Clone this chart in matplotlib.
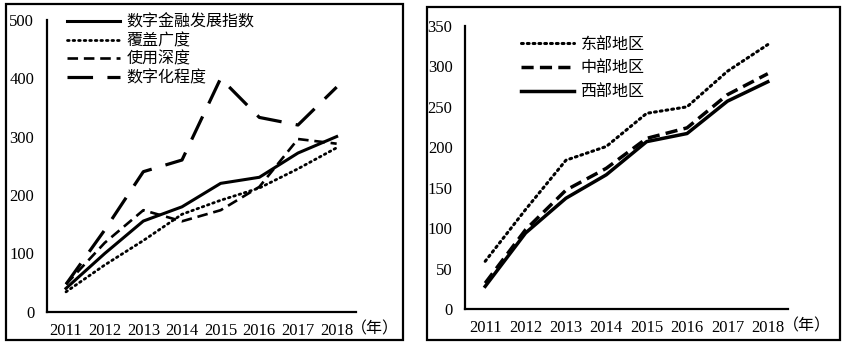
#!/usr/bin/env python3

import matplotlib
matplotlib.use("Agg")
import matplotlib.pyplot as plt
from matplotlib.patches import Rectangle

plt.rcParams['font.family'] = ['Liberation Serif', 'Noto Sans CJK SC', 'DejaVu Sans']

years = ['2011', '2012', '2013', '2014', '2015', '2016', '2017', '2018']

# national index and its three sub-dimensions
index_total = [40, 99.7, 155.4, 179.8, 220.0, 230.4, 272.0, 300.2]
coverage = [34, 80, 122, 167, 191, 212, 245, 281]
usage_depth = [47, 118, 174, 155, 174, 214, 296, 288]
digitization = [47, 140, 240, 260, 400, 333, 320, 385]

# regional index
east = [59, 123, 184, 201, 242, 250, 294, 327]
central = [32, 98, 147, 174, 211, 224, 265, 291]
west = [28, 94, 137, 166, 207, 217, 257, 281]


def style_axes(ax, ymax, ystep):
    ax.set_xlim(0, len(years))
    ax.set_ylim(0, ymax)
    ax.set_xticks([i + 0.5 for i in range(len(years))])
    ax.set_xticklabels(years)
    ax.set_yticks(range(0, ymax + 1, ystep))
    ax.tick_params(length=0, labelsize=12, colors='black')
    ax.tick_params(axis='y', pad=9)
    ax.tick_params(axis='x', pad=8)
    for side in ('top', 'right'):
        ax.spines[side].set_visible(False)
    for side in ('left', 'bottom'):
        ax.spines[side].set_linewidth(1.6)
        ax.spines[side].set_color('black')
    ax.text(0.985, -0.06, '（年）', transform=ax.transAxes, fontsize=11.5,
            ha='left', va='center', family=['Noto Sans CJK SC'])


def main():
    fig = plt.figure(figsize=(8.47, 3.46), dpi=100)

    # panel frames
    W, H = 847, 346
    fig.patches.append(Rectangle((6 / W, (H - 340) / H), 397 / W, 336 / H,
                                 transform=fig.transFigure, fill=False,
                                 edgecolor='black', linewidth=1.6))
    fig.patches.append(Rectangle((427 / W, (H - 340) / H), 413 / W, 333 / H,
                                 transform=fig.transFigure, fill=False,
                                 edgecolor='black', linewidth=1.6))

    x = [i + 0.5 for i in range(len(years))]

    ax1 = fig.add_axes([0.0551, 0.0991, 0.3652, 0.8431])
    ax1.plot(x, index_total, color='black', lw=2.2, label='数字金融发展指数')
    ax1.plot(x, coverage, color='black', lw=2.0, linestyle=(0, (0.6, 1.4)),
             dash_capstyle='round', label='覆盖广度')
    ax1.plot(x, usage_depth, color='black', lw=1.9, linestyle=(0, (4, 2.2)),
             label='使用深度')
    ax1.plot(x, digitization, color='black', lw=2.3, linestyle=(0, (8, 4.5)),
             label='数字化程度')
    style_axes(ax1, 500, 100)
    ax1.legend(loc='upper left', bbox_to_anchor=(0.03, 1.06),
               frameon=False, handlelength=3.3, handletextpad=0.4,
               labelspacing=0.1, borderpad=0.2,
               prop={'family': ['Noto Sans CJK SC'], 'size': 11.5})

    ax2 = fig.add_axes([0.549, 0.1069, 0.3813, 0.818])
    ax2.plot(x, east, color='black', lw=2.2, linestyle=(0, (0.6, 1.3)),
             dash_capstyle='round', label='东部地区')
    ax2.plot(x, central, color='black', lw=2.5, linestyle=(0, (3.5, 1.8)),
             label='中部地区')
    ax2.plot(x, west, color='black', lw=2.5, label='西部地区')
    style_axes(ax2, 350, 50)
    ax2.legend(loc='upper left', bbox_to_anchor=(0.14, 1.005),
               frameon=False, handlelength=3.3, handletextpad=0.4,
               labelspacing=0.42, borderpad=0.2,
               prop={'family': ['Noto Sans CJK SC'], 'size': 11.5})

    fig.savefig('out.png', dpi=100)


if __name__ == "__main__":
    main()
